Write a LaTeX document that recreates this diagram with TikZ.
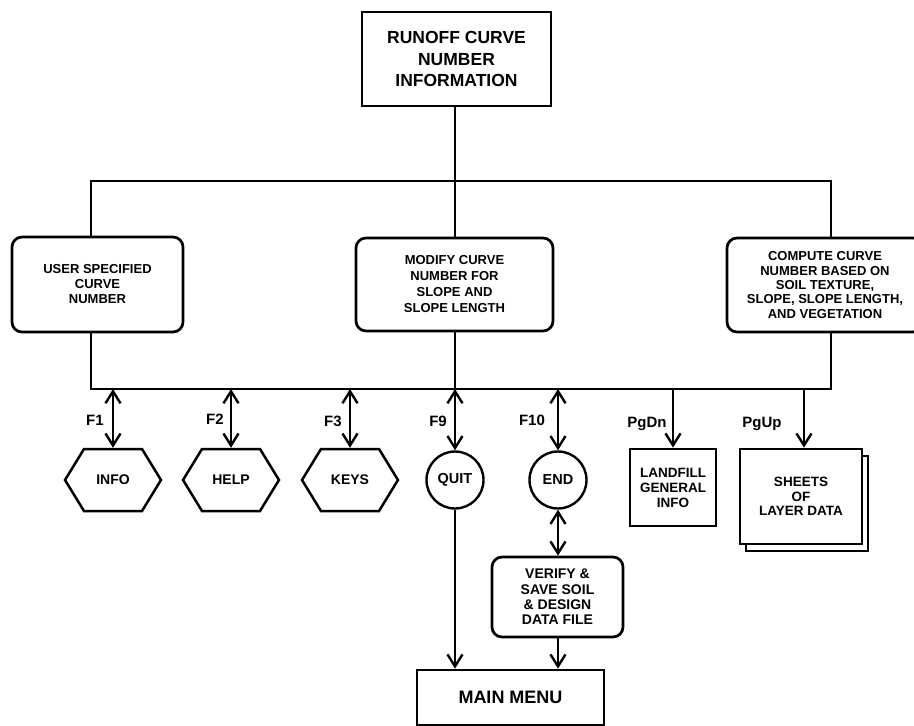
\documentclass[tikz,border=0pt]{standalone}
\usepackage{fontspec}
\setmainfont{Liberation Sans}
\usetikzlibrary{arrows.meta,shapes.symbols}
\begin{document}
\begin{tikzpicture}[x=1pt,y=-1pt,
  every node/.style={inner sep=0pt,align=center},
  ln/.style={line width=2.4pt},
  bx/.style={draw,line width=2.7pt,fill=white,rectangle},
  rbx/.style={bx,rounded corners=10pt},
  txt/.style={font=\bfseries\fontsize{13}{15}\selectfont},
  hexa/.style={draw,line width=2.5pt,fill=white,shape=signal,signal to=east and west,
     signal pointer angle=117,minimum width=96pt,minimum height=62pt,
     font=\bfseries\fontsize{14}{16}\selectfont},
  circ/.style={draw,line width=2.4pt,fill=white,circle,minimum size=57pt,
     font=\bfseries\fontsize{14.5}{16}\selectfont},
  lab/.style={font=\bfseries\fontsize{15}{17}\selectfont,anchor=base},
  dbl/.style={ln,{Straight Barb[length=12pt,width=15pt]}-{Straight Barb[length=12pt,width=15pt]}},
  sgl/.style={ln,-{Straight Barb[length=12pt,width=15pt]}}
]
\clip (0,0) rectangle (914,726);
\fill[white] (0,0) rectangle (914,726);
% frame of the two bars
\coordinate (TL) at (91,181);
\coordinate (TR) at (831,181);
\coordinate (BL) at (91,389);
\coordinate (BR) at (831,389);
\coordinate (TM) at (455,181);
\coordinate (BM) at (455,389);
\draw[ln,line join=miter] (BL) -- (TL) -- (TR) -- (BR) -- cycle;
\draw[ln] (TM) -- (BM);

% top box
\node[bx,minimum width=189pt,minimum height=94pt,font=\bfseries\fontsize{17.5}{21.5}\selectfont]
  (top) at (456.5,59) {RUNOFF CURVE\\NUMBER\\INFORMATION};
\draw[ln] (top.south -| TM) -- (TM);

% three option boxes
\node[rbx,txt,minimum width=171pt,minimum height=95pt] (user) at (97.5,284.5)
  {USER SPECIFIED\\CURVE\\NUMBER};
\node[rbx,font=\bfseries\fontsize{13}{16}\selectfont,minimum width=197pt,minimum height=93pt] (modify) at (454.5,284.5)
  {MODIFY CURVE\\NUMBER FOR\\SLOPE AND\\SLOPE LENGTH};
\node[rbx,font=\bfseries\fontsize{13}{14.3}\selectfont,minimum width=196pt,minimum height=94pt] (compute) at (825,285)
  {COMPUTE CURVE\\NUMBER BASED ON\\SOIL TEXTURE,\\SLOPE, SLOPE LENGTH,\\AND VEGETATION};

% bottom nodes
\node[hexa] (info) at (113,480) {INFO};
\node[hexa] (help) at (231,480) {HELP};
\node[hexa] (keys) at (350,480) {KEYS};
\node[circ] (quit) at (455,480) {QUIT};
\node[circ] (end) at (558,480) {END};
\node[bx,font=\bfseries\fontsize{13.5}{15}\selectfont,minimum width=86pt,minimum height=77pt] (landfill) at (673,487.5)
  {LANDFILL\\GENERAL\\INFO};
\node[bx,minimum width=122pt,minimum height=95pt] (sheetsback) at (807,503.5) {};
\node[bx,font=\bfseries\fontsize{13.5}{14.5}\selectfont,minimum width=122pt,minimum height=95pt] (sheets) at (801,496.5)
  {SHEETS\\OF\\LAYER DATA};
\node[rbx,font=\bfseries\fontsize{14}{15.3}\selectfont,minimum width=131pt,minimum height=80pt] (verify) at (557.5,597)
  {VERIFY \&\\SAVE SOIL\\\& DESIGN\\DATA FILE};
\node[bx,font=\bfseries\fontsize{18}{20}\selectfont,minimum width=187pt,minimum height=55pt] (main) at (510.5,697.5)
  {MAIN MENU};

% connectors from the bottom bar
\coordinate (c1) at (info.north |- BL);
\coordinate (c2) at (help.north |- BL);
\coordinate (c3) at (keys.north |- BL);
\coordinate (c9) at (quit.north |- BL);
\coordinate (c10) at (end.north |- BL);
\coordinate (cd) at (landfill.north |- BL);
\coordinate (cu) at (804,389);
\draw[dbl] (c1) -- (info.north);
\draw[dbl] (c2) -- (help.north);
\draw[dbl] (c3) -- (keys.north);
\draw[dbl] (c9) -- (quit.north);
\draw[dbl] (c10) -- (end.north);
\draw[sgl] (cd) -- (landfill.north);
\draw[sgl] (cu) -- (cu |- sheets.north);
\draw[dbl] (end.south) -- (end.south |- verify.north);
\draw[sgl] (quit.south) -- (quit.south |- main.north);
\draw[sgl] (verify.south -| end.south) -- (end.south |- main.north);

% key labels
\node[lab] (l1) at (95,425) {F1};
\node[lab] (l2) at (215,424) {F2};
\node[lab] (l3) at (333,426) {F3};
\node[lab] (l9) at (438,426) {F9};
\node[lab] (l10) at (532,425) {F10};
\node[lab] (ld) at (647,427) {PgDn};
\node[lab] (lu) at (762,427) {PgUp};
\end{tikzpicture}
\end{document}
